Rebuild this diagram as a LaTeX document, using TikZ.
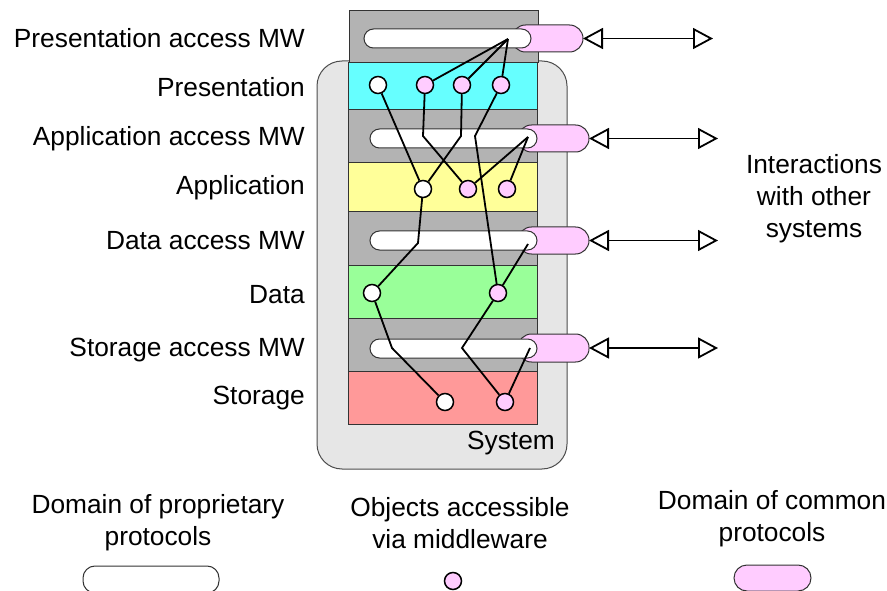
\documentclass[tikz,border=0pt]{standalone}
\usepackage{fontspec}
\setmainfont{Liberation Sans}
\usetikzlibrary{arrows.meta}
\definecolor{sysgray}{HTML}{E6E6E6}
\definecolor{mwgray}{HTML}{B3B3B3}
\definecolor{prescyan}{HTML}{66FFFF}
\definecolor{appyellow}{HTML}{FFFF99}
\definecolor{datagreen}{HTML}{99FF99}
\definecolor{storred}{HTML}{FF9999}
\definecolor{commonpink}{HTML}{FFCCFF}
\tikzset{
  layerbox/.style={draw=black!80, line width=1pt},
  slotbox/.style={draw=black!80, fill=white, line width=1pt, rounded corners=9.5pt},
  commonbox/.style={draw=black!80, fill=commonpink, line width=1pt, rounded corners=13.5pt},
  obj/.style={circle, draw=black, line width=1.5pt, minimum size=17pt, inner sep=0pt},
  wobj/.style={obj, fill=white},
  pobj/.style={obj, fill=commonpink},
  link/.style={draw=black, line width=1.8pt},
  inter/.style={line width=1.8pt, {Triangle[open,length=20pt,width=21pt]}-{Triangle[open,length=20pt,width=21pt]}},
  lbl/.style={font=\fontsize{26.3}{30}\selectfont, inner sep=0pt},
  mlbl/.style={font=\fontsize{26.3}{32}\selectfont, inner sep=0pt, align=center}
}
\begin{document}
\begin{tikzpicture}[x=1pt,y=-1pt]
\useasboundingbox (0,0) rectangle (887,591);
% system background
\draw[fill=sysgray, draw=black!70, line width=1pt, rounded corners=25pt] (317,61) rectangle (567,469);
\node[lbl, anchor=base east] (sys) at (555,449) {System};
% layers
\draw[layerbox, fill=mwgray] (349,11) rectangle (538,63);
\draw[layerbox, fill=prescyan] (348,63) rectangle (537,110);
\draw[layerbox, fill=mwgray] (348,110) rectangle (537,163);
\draw[layerbox, fill=appyellow] (348,163) rectangle (537,212);
\draw[layerbox, fill=mwgray] (348,212) rectangle (537,265);
\draw[layerbox, fill=datagreen] (348,265) rectangle (537,318);
\draw[layerbox, fill=mwgray] (348,318) rectangle (537,371);
\draw[layerbox, fill=storred] (348,371) rectangle (537,424);
% common protocol pills
\draw[commonbox] (512,25) rectangle (583,52);
\draw[commonbox] (518,125) rectangle (589,152);
\draw[commonbox] (518,227) rectangle (589,254);
\draw[commonbox] (518,334) rectangle (589,362);
% proprietary slots
\draw[slotbox] (364,29) rectangle (531,48);
\draw[slotbox] (370,129) rectangle (537,148);
\draw[slotbox] (370,231) rectangle (537,250);
\draw[slotbox] (370,339) rectangle (537,358);
% interaction arrows
\coordinate (pr1) at (583,38.5);
\coordinate (pe1) at (713,38.5);
\coordinate (pr2) at (589,138.5);
\coordinate (pe2) at (718,138.5);
\coordinate (pr3) at (589,240.5);
\coordinate (pe3) at (718,240.5);
\coordinate (pr4) at (589,348);
\coordinate (pe4) at (718,348);
\draw[inter] (pr1) -- (pe1);
\draw[inter] (pr2) -- (pe2);
\draw[inter] (pr3) -- (pe3);
\draw[inter] (pr4) -- (pe4);
% objects
\node[wobj] (p1) at (378,85) {};
\node[pobj] (p2) at (425,85) {};
\node[pobj] (p3) at (462,85) {};
\node[pobj] (p4) at (501,85) {};
\node[wobj] (a1) at (423,189) {};
\node[pobj] (a2) at (468,189) {};
\node[pobj] (a3) at (507,189) {};
\node[wobj] (d1) at (372,293) {};
\node[pobj] (d2) at (498,293) {};
\node[wobj] (s1) at (445,402) {};
\node[pobj] (s2) at (505,402) {};
% junction points
\coordinate (jA) at (508,39);
\coordinate (jB) at (528,137);
\coordinate (jC) at (528,244);
\coordinate (jD) at (530,348);
\coordinate (k2) at (423,136);
\coordinate (k3) at (461,136);
\coordinate (k4) at (475,136);
\coordinate (k5) at (418,243);
\coordinate (k6) at (392,348);
\coordinate (k7) at (462,348);
% links
\draw[link] (jA) -- (p2);
\draw[link] (jA) -- (p3);
\draw[link] (jA) -- (p4);
\draw[link] (p1) -- (a1);
\draw[link] (p2) -- (k2) -- (a2);
\draw[link] (p3) -- (k3) -- (a1);
\draw[link] (p4) -- (k4) -- (d2);
\draw[link] (jB) -- (a2);
\draw[link] (jB) -- (a3);
\draw[link] (a1) -- (k5) -- (d1);
\draw[link] (jC) -- (d2);
\draw[link] (d1) -- (k6) -- (s1);
\draw[link] (d2) -- (k7) -- (s2);
\draw[link] (jD) -- (s2);
% left labels
\node[lbl, anchor=base east] (l1) at (305,48) {Presentation access MW};
\node[lbl, anchor=base east] (l2) at (305,97) {Presentation};
\node[lbl, anchor=base east] (l3) at (305,146) {Application access MW};
\node[lbl, anchor=base east] (l4) at (305,195) {Application};
\node[lbl, anchor=base east] (l5) at (305,250) {Data access MW};
\node[lbl, anchor=base east] (l6) at (305,303) {Data};
\node[lbl, anchor=base east] (l7) at (305,356) {Storage access MW};
\node[lbl, anchor=base east] (l8) at (305,404) {Storage};
% right label
\node[mlbl] (other) at (814,199) {Interactions\\with other\\systems};
% legend
\node[mlbl] (leg1) at (158,523) {Domain of proprietary\\protocols};
\node[mlbl] (leg2) at (460,523) {Objects accessible\\via middleware};
\node[mlbl] (leg3) at (772,519) {Domain of common\\protocols};
\draw[slotbox, rounded corners=12pt] (83,566) rectangle (219,593);
\node[pobj] (legobj) at (453,581) {};
\draw[commonbox, rounded corners=13pt] (734,565) rectangle (811,591);
\end{tikzpicture}
\end{document}
